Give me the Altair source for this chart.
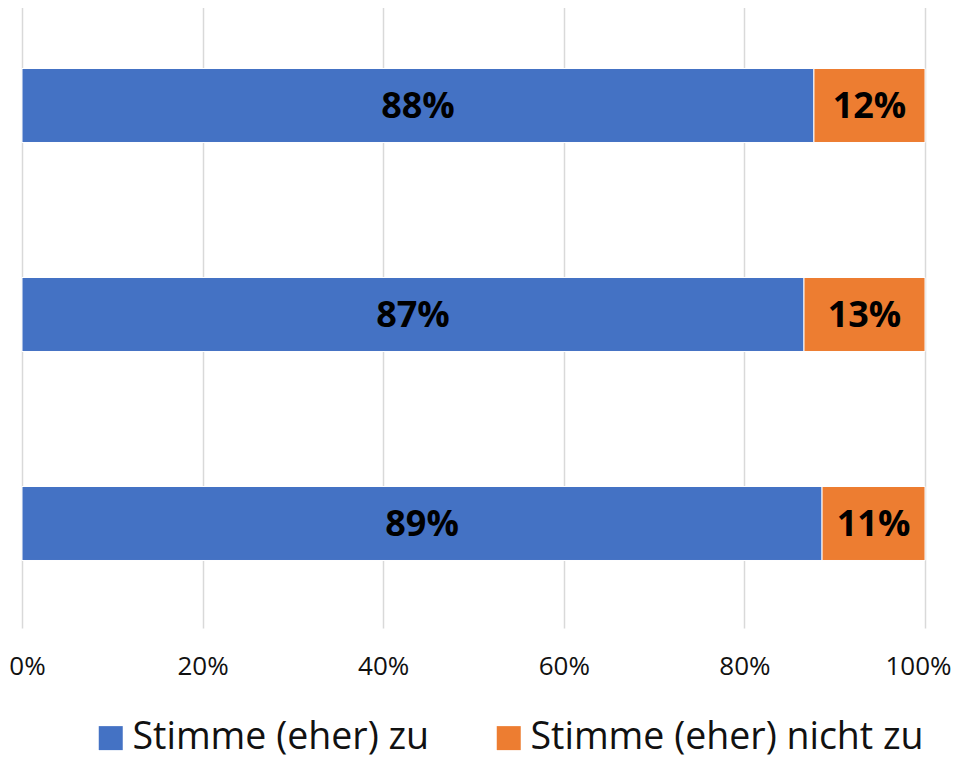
import altair as alt
import pandas as pd

categories = ["Aussage 1", "Aussage 2", "Aussage 3"]
series = ["Stimme (eher) zu", "Stimme (eher) nicht zu"]
agree = [0.877, 0.866, 0.886]
disagree = [0.123, 0.134, 0.114]
colors = ["#4472C4", "#ED7D31"]
tick_values = [0, 0.2, 0.4, 0.6, 0.8, 1.0]

rows = []
for c, a, d in zip(categories, agree, disagree):
    rows.append({"cat": c, "series": series[0], "value": a, "order": 0})
    rows.append({"cat": c, "series": series[1], "value": d, "order": 1})
df = pd.DataFrame(rows)

FONT = "Open Sans"
TEXT_COLOR = "#111111"

base = alt.Chart(df).transform_stack(
    stack="value", as_=["x0", "x1"], groupby=["cat"],
    sort=[alt.SortField("order", order="ascending")]
).transform_calculate(mid="(datum.x0 + datum.x1) / 2")

y_enc = alt.Y("cat:N", sort=categories, axis=None,
              scale=alt.Scale(paddingInner=0.646, paddingOuter=0.323))

bars = base.mark_bar(stroke="white", strokeWidth=1).encode(
    y=y_enc,
    x=alt.X("x0:Q", scale=alt.Scale(domain=[0, 1], nice=False),
            axis=alt.Axis(values=tick_values, format=".0%", grid=True,
                          gridColor="#d9d9d9", gridWidth=1.5, domain=False,
                          ticks=False, labelFontSize=26, labelFont=FONT,
                          labelColor=TEXT_COLOR, labelPadding=25,
                          labelOffset={"condition": [
                              {"test": "datum.value === 0", "value": 5},
                              {"test": "datum.value === 1", "value": -7}],
                              "value": 0},
                          labelFlush=False, title=None)),
    x2="x1:Q",
    color=alt.Color("series:N", scale=alt.Scale(domain=series, range=colors),
                    legend=alt.Legend(orient="none", legendX=70, legendY=718,
                                      direction="horizontal", title=None,
                                      symbolType="square", symbolSize=576,
                                      symbolStrokeWidth=0, labelFontSize=37.5,
                                      labelFont=FONT, labelColor=TEXT_COLOR,
                                      labelLimit=600, columnPadding=60,
                                      labelOffset=3, padding=0)),
)

labels = base.mark_text(font=FONT, fontWeight="bold", fontSize=36, dy=1,
                        color="black", baseline="middle", align="center").encode(
    y=y_enc,
    x=alt.X("mid:Q"),
    text=alt.Text("value:Q", format=".0%"),
)

chart = alt.layer(bars, labels).properties(
    width=903, height=627,
    autosize=alt.AutoSizeParams(type="none"),
    padding={"left": 14, "right": 28, "top": -7, "bottom": 129},
).configure_view(stroke=None)

chart.save("out.html", embed_options={"renderer": "svg", "actions": False})
